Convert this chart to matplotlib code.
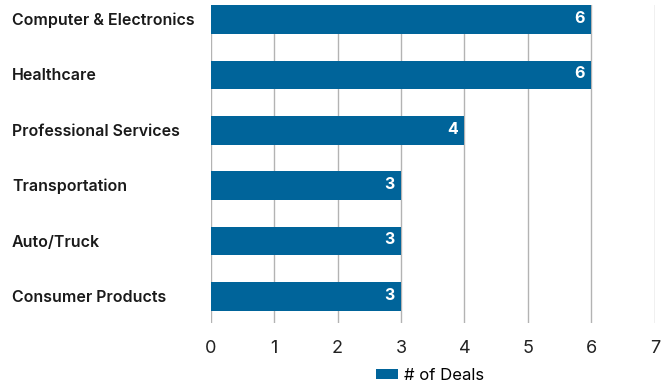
import matplotlib
matplotlib.use('Agg')
from matplotlib import pyplot as plt

# data, top to bottom as in the chart
industries = ["Computer & Electronics", "Healthcare", "Professional Services",
              "Transportation", "Auto/Truck", "Consumer Products"]
deals = [6, 6, 4, 3, 3, 3]
x_ticks = [0, 1, 2, 3, 4, 5, 6, 7]

bar_color = "#00649a"
plt.rcParams['font.family'] = ['Inter', 'DejaVu Sans']

fig = plt.figure(figsize=(6.67, 3.86), dpi=100)
ax = fig.add_axes([0.3156, 0.163, 0.982 - 0.3156, 0.987 - 0.163])

n = len(industries)
ypos = list(range(n - 1, -1, -1))  # first category on top
bars = ax.barh(ypos, deals, height=0.515, color=bar_color, label="# of Deals", zorder=3)

# value labels inside bar ends
for y, v in zip(ypos, deals):
    ax.text(v - 0.1, y + 0.02, str(v), color="white", fontsize=11.5, fontweight="bold",
            ha="right", va="center", zorder=4)

# category labels, left aligned at the figure edge
for y, name in zip(ypos, industries):
    ax.annotate(name, xy=(0, y), xycoords=("figure fraction", "data"),
                xytext=(12, -1), textcoords="offset pixels",
                ha="left", va="center", fontsize=11.5, fontweight="semibold", color="#1a1a1a")

ax.set_xlim(0, 7)
ax.set_ylim(-0.48, n - 1 + 0.26)
ax.set_xticks(x_ticks)
ax.set_xticklabels([str(t) for t in x_ticks], fontsize=13, color="#222222")
ax.set_yticks([])
ax.tick_params(axis="x", length=0, pad=12)
ax.grid(axis="x", color="#b3b3b3", linewidth=1, zorder=0)
for s in ax.spines.values():
    s.set_visible(False)

fig.legend(handles=[bars], labels=["# of Deals"], loc="center",
           bbox_to_anchor=(0.645, 0.028), frameon=False, fontsize=12,
           handlelength=1.3, handleheight=0.6, handletextpad=0.4)

fig.savefig("out.png", dpi=100)
